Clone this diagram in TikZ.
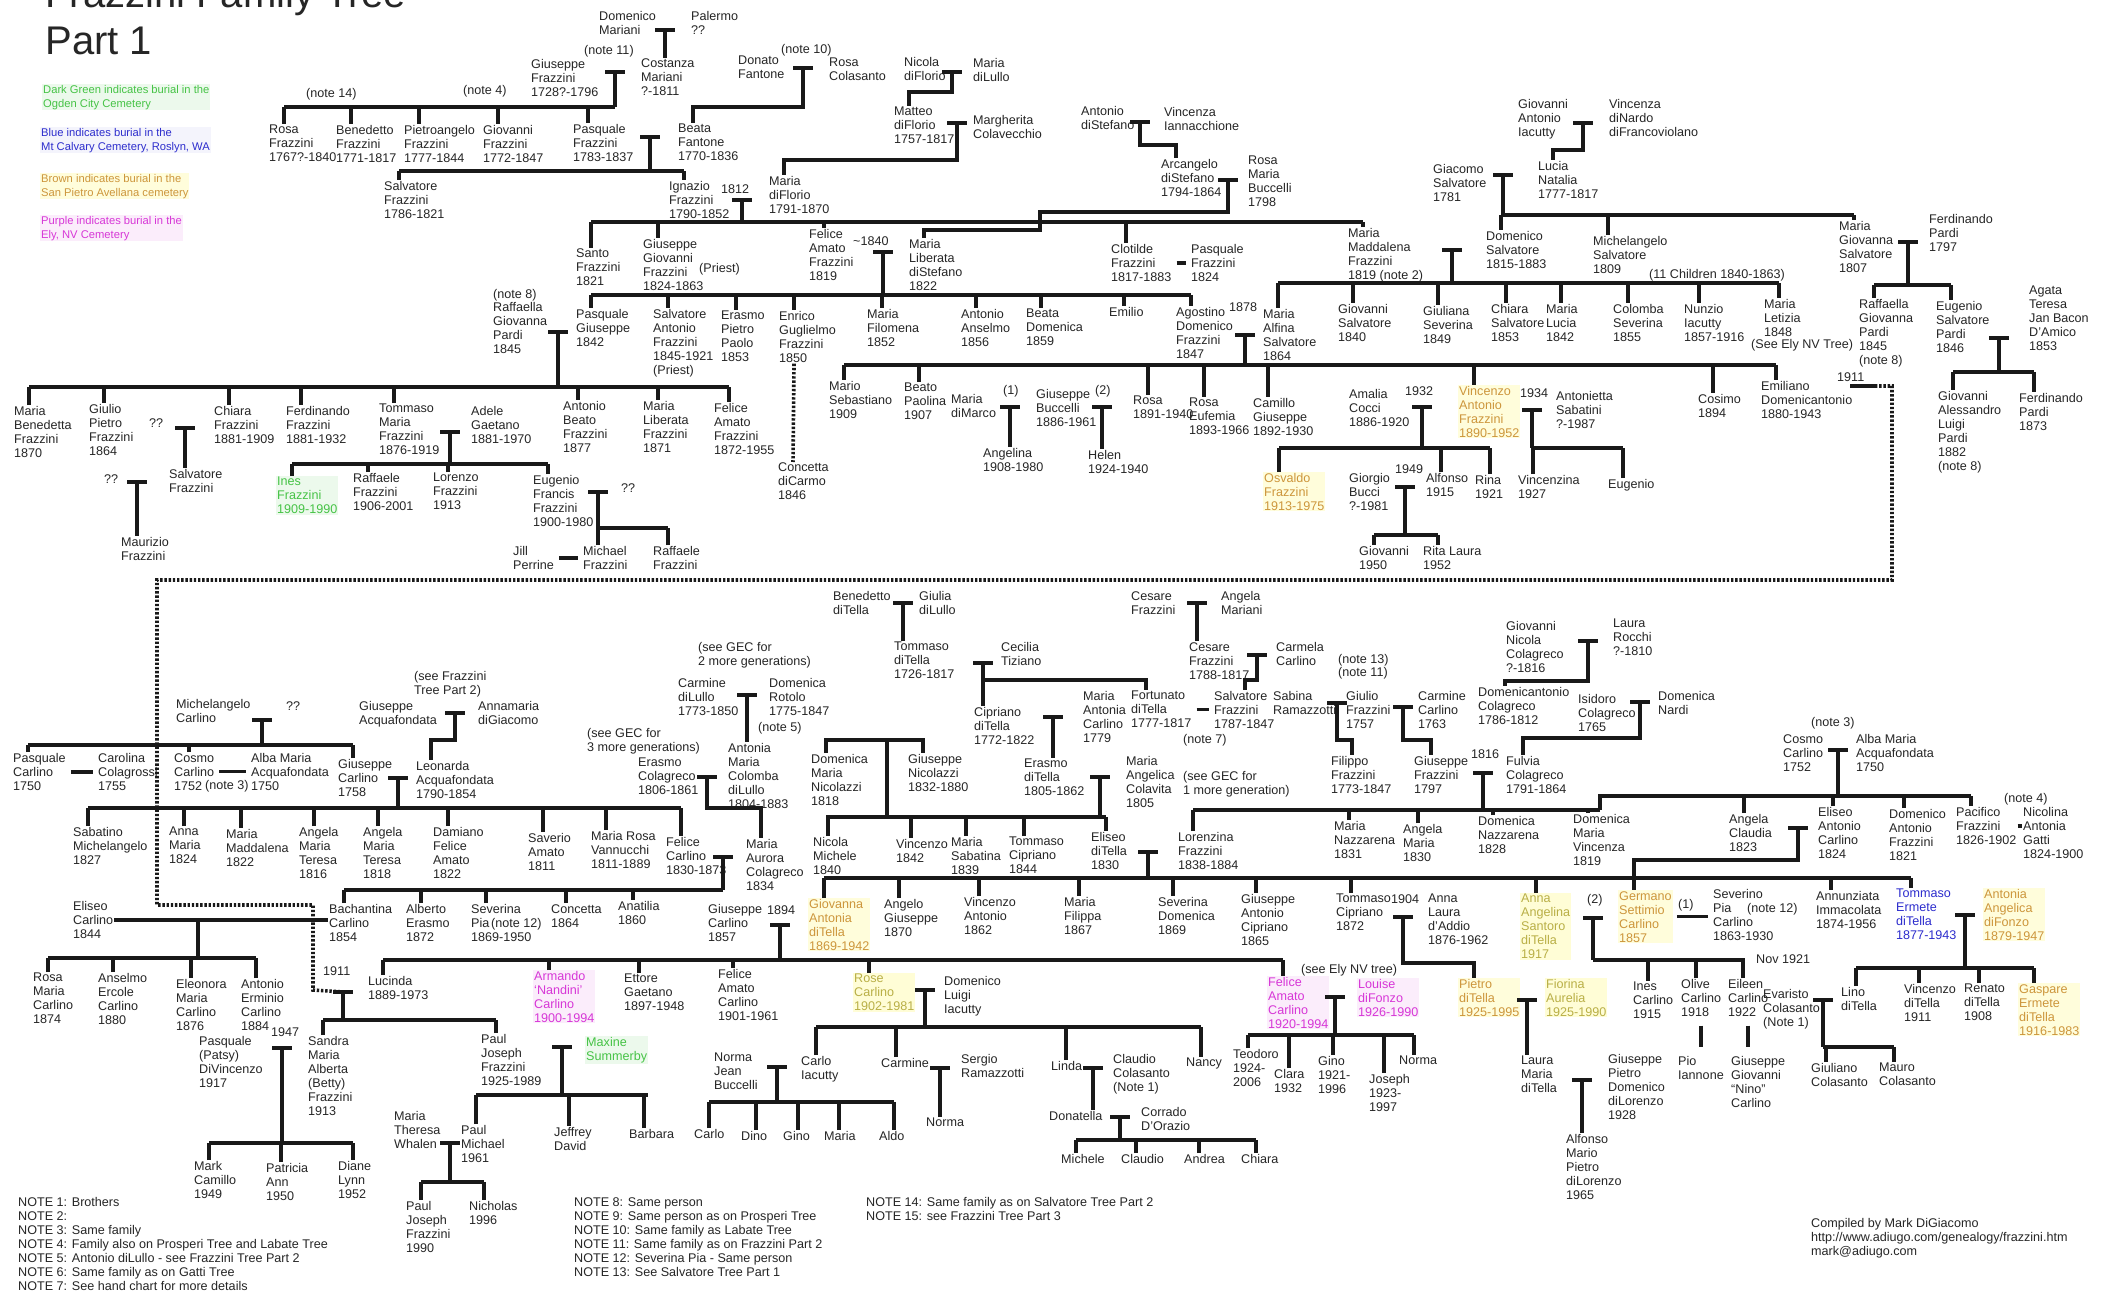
\documentclass[tikz,border=0pt]{standalone}
\usepackage{fontspec}
\setmainfont{Liberation Sans}
\usetikzlibrary{calc}
\definecolor{burG}{RGB}{70,195,70}
\definecolor{burB}{RGB}{45,45,205}
\definecolor{burO}{RGB}{205,150,60}
\definecolor{burP}{RGB}{215,55,215}
\definecolor{burY}{RGB}{185,175,70}
\newcommand\ff{\fontsize{6.3}{7}\selectfont}
\tikzset{
  ppl/.style={anchor=north west, align=left, inner sep=0.4pt, font=\ff, text=black!85},
  pplg/.style={ppl, text=burG, fill=burG!10},
  pplb/.style={ppl, text=burB},
  pplo/.style={ppl, text=burO, fill=yellow!14},
  pplp/.style={ppl, text=burP, fill=burP!9},
  pply/.style={ppl, text=burY, fill=yellow!16},
  lbl/.style={ppl},
  legtxt/.style={ppl, font=\fontsize{5.6}{7}\selectfont},
  ttl/.style={inner sep=0pt, font=\fontsize{20}{23}\selectfont, text=black!85},
  ln/.style={line width=1.7pt, black!90},
  dotln/.style={line width=1.8pt, black!90, dash pattern=on 1.2pt off 0.9pt},
}
\newcommand\tee[1]{\draw[ln] ([xshift=-5pt]#1) -- ([xshift=5pt]#1);}
\newcommand\stem[2]{\draw[ln] (#1) -- (#1 |- #2);}
\newcommand\rail[4]{\coordinate (#1) at (#2,#4); \draw[ln] (#1) -- (#3,#4);}
\newcommand\drops[2]{\foreach \k in {#2}{\draw[ln] let \p1=(\k.north west), \p2=(#1) in (\x1+8pt,\y1) -- (\x1+8pt,\y2);}}
\newcommand\wed[2]{\draw[ln, shorten <=2pt, shorten >=2pt] (#1.east) -- (#1.east -| #2.west);}
\begin{document}
\begin{tikzpicture}[x=0.5pt,y=-0.5pt]
\fill[white] (0,0) rectangle (2108,1294);
\useasboundingbox (0,0) rectangle (2108,1294);

\node[ttl, anchor=base west] (ttlA) at (45,8) {Frazzini Family Tree};
\node[ttl, anchor=base west] (ttlB) at (45,55) {Part 1};
\node[legtxt, text=burG, fill=burG!10] (legG) at (42,84) {Dark Green indicates burial in the\\Ogden City Cemetery};
\node[legtxt, text=burB, fill=burB!5] (legB) at (40,127) {Blue indicates burial in the\\Mt Calvary Cemetery, Roslyn, WA};
\node[legtxt, text=burO, fill=yellow!14] (legO) at (40,173) {Brown indicates burial in the\\San Pietro Avellana cemetery};
\node[legtxt, text=burP, fill=burP!9] (legP) at (40,215) {Purple indicates burial in the\\Ely, NV Cemetery};

\node[lbl] (n14) at (305,87) {(note 14)};
\node[lbl] (n4a) at (462,84) {(note 4)};
\node[ppl] (rosaF) at (268,124) {Rosa\\Frazzini\\1767?-1840};
\node[ppl] (beneF) at (335,124) {Benedetto\\Frazzini\\1771-1817};
\node[ppl] (pietF) at (403,124) {Pietroangelo\\Frazzini\\1777-1844};
\node[ppl] (giovF) at (482,124) {Giovanni\\Frazzini\\1772-1847};
\node[ppl] (pasqF) at (572,123) {Pasquale\\Frazzini\\1783-1837};
\node[lbl] (n11a) at (583,44) {(note 11)};
\node[ppl] (giusF) at (530,58) {Giuseppe\\Frazzini\\1728?-1796};
\node[ppl] (costM) at (640,58) {Costanza\\Mariani\\?-1811};
\node[ppl] (domM) at (598,10) {Domenico\\Mariani};
\node[ppl] (paleM) at (690,10) {Palermo\\??};
\node[ppl] (beaF) at (677,123) {Beata\\Fantone\\1770-1836};
\node[ppl] (salvF) at (383,180) {Salvatore\\Frazzini\\1786-1821};
\node[ppl] (ignF) at (668,180) {Ignazio\\Frazzini\\1790-1852};
\node[lbl] (n10) at (780,43) {(note 10)};
\node[ppl] (donF) at (737,55) {Donato\\Fantone};
\node[ppl] (rosaC) at (828,57) {Rosa\\Colasanto};
\node[ppl] (nicD) at (903,56) {Nicola\\diFlorio};
\node[ppl] (marL) at (972,57) {Maria\\diLullo};
\node[ppl] (matD) at (893,106) {Matteo\\diFlorio\\1757-1817};
\node[ppl] (marC) at (972,114) {Margherita\\Colavecchio};
\node[ppl] (marD) at (768,175) {Maria\\diFlorio\\1791-1870};
\node[lbl] (y1812) at (720,184) {1812};
\node[ppl] (santoF) at (575,248) {Santo\\Frazzini\\1821};
\node[ppl] (giugF) at (642,238) {Giuseppe\\Giovanni\\Frazzini\\1824-1863};
\node[lbl] (priest) at (698,262) {(Priest)};
\node[ppl] (felF) at (808,228) {Felice\\Amato\\Frazzini\\1819};
\node[ppl] (cloF) at (1110,243) {Clotilde\\Frazzini\\1817-1883};
\node[ppl] (pasq2F) at (1190,243) {Pasquale\\Frazzini\\1824};
\node[ppl] (mmadF) at (1347,227) {Maria\\Maddalena\\Frazzini\\1819 (note 2)};
\node[ppl] (antS) at (1080,105) {Antonio\\diStefano};
\node[ppl] (vinI) at (1163,106) {Vincenza\\Iannacchione};
\node[ppl] (arcS) at (1160,158) {Arcangelo\\diStefano\\1794-1864};
\node[ppl] (rosaB) at (1247,155) {Rosa\\Maria\\Buccelli\\1798};
\node[ppl] (mlibS) at (908,238) {Maria\\Liberata\\diStefano\\1822};
\node[lbl] (y1840) at (852,236) {\textasciitilde 1840};
\node[ppl] (pasgF) at (575,308) {Pasquale\\Giuseppe\\1842};
\node[ppl] (salaF) at (652,308) {Salvatore\\Antonio\\Frazzini\\1845-1921\\(Priest)};
\node[ppl] (erpF) at (720,310) {Erasmo\\Pietro\\Paolo\\1853};
\node[ppl] (enrF) at (778,310) {Enrico\\Guglielmo\\Frazzini\\1850};
\node[ppl] (mfilF) at (866,308) {Maria\\Filomena\\1852};
\node[ppl] (antaF) at (960,308) {Antonio\\Anselmo\\1856};
\node[ppl] (bdomF) at (1025,308) {Beata\\Domenica\\1859};
\node[ppl] (emiF) at (1108,306) {Emilio};
\node[ppl] (agoF) at (1175,306) {Agostino\\Domenico\\Frazzini\\1847};
\node[lbl] (n8a) at (492,288) {(note 8)};
\node[ppl] (raffP) at (492,301) {Raffaella\\Giovanna\\Pardi\\1845};
\node[ppl] (conD) at (777,462) {Concetta\\diCarmo\\1846};
\node[ppl] (mbenF) at (13,405) {Maria\\Benedetta\\Frazzini\\1870};
\node[ppl] (giulF) at (88,403) {Giulio\\Pietro\\Frazzini\\1864};
\node[ppl] (chiF) at (213,405) {Chiara\\Frazzini\\1881-1909};
\node[ppl] (ferF) at (285,405) {Ferdinando\\Frazzini\\1881-1932};
\node[ppl] (tomF) at (378,403) {Tommaso\\Maria\\Frazzini\\1876-1919};
\node[ppl] (antbF) at (562,400) {Antonio\\Beato\\Frazzini\\1877};
\node[ppl] (mlbF) at (642,400) {Maria\\Liberata\\Frazzini\\1871};
\node[ppl] (felaF) at (713,402) {Felice\\Amato\\Frazzini\\1872-1955};
\node[ppl] (qA) at (148,418) {??};
\node[ppl] (sal2F) at (168,468) {Salvatore\\Frazzini};
\node[ppl] (qB) at (103,474) {??};
\node[ppl] (maurF) at (120,536) {Maurizio\\Frazzini};
\node[ppl] (adeG) at (470,405) {Adele\\Gaetano\\1881-1970};
\node[pplg] (inesF) at (276,476) {Ines\\Frazzini\\1909-1990};
\node[ppl] (rafF) at (352,472) {Raffaele\\Frazzini\\1906-2001};
\node[ppl] (lorF) at (432,472) {Lorenzo\\Frazzini\\1913};
\node[ppl] (eugF) at (532,474) {Eugenio\\Francis\\Frazzini\\1900-1980};
\node[ppl] (qC) at (620,483) {??};
\node[ppl] (jillP) at (512,545) {Jill\\Perrine};
\node[ppl] (michF) at (582,545) {Michael\\Frazzini};
\node[ppl] (raf2F) at (652,545) {Raffaele\\Frazzini};

\node[lbl] (y1878) at (1228,302) {1878};
\node[ppl] (malfS) at (1262,308) {Maria\\Alfina\\Salvatore\\1864};
\node[ppl] (marS) at (828,380) {Mario\\Sebastiano\\1909};
\node[ppl] (beaP) at (903,382) {Beato\\Paolina\\1907};
\node[ppl] (mdiM) at (950,393) {Maria\\diMarco};
\node[lbl] (l1a) at (1002,384) {(1)};
\node[ppl] (giusB) at (1035,388) {Giuseppe\\Buccelli\\1886-1961};
\node[lbl] (l2a) at (1094,384) {(2)};
\node[ppl] (rosF2) at (1132,395) {Rosa\\1891-1940};
\node[ppl] (rosE) at (1188,397) {Rosa\\Eufemia\\1893-1966};
\node[ppl] (camG) at (1252,397) {Camillo\\Giuseppe\\1892-1930};
\node[ppl] (angL) at (982,447) {Angelina\\1908-1980};
\node[ppl] (helB) at (1087,449) {Helen\\1924-1940};
\node[ppl] (amaC) at (1348,388) {Amalia\\Cocci\\1886-1920};
\node[lbl] (y1932) at (1404,386) {1932};
\node[pplo] (vinF) at (1458,385) {Vincenzo\\Antonio\\Frazzini\\1890-1952};
\node[lbl] (y1934) at (1519,388) {1934};
\node[ppl] (antSa) at (1555,390) {Antonietta\\Sabatini\\?-1987};
\node[ppl] (cosF) at (1697,393) {Cosimo\\1894};
\node[ppl] (emilD) at (1760,380) {Emiliano\\Domenicantonio\\1880-1943};
\node[lbl] (y1911a) at (1836,372) {1911};
\node[pplo] (osvF) at (1263,472) {Osvaldo\\Frazzini\\1913-1975};
\node[ppl] (giorB) at (1348,472) {Giorgio\\Bucci\\?-1981};
\node[lbl] (y1949) at (1394,464) {1949};
\node[ppl] (alfF) at (1425,472) {Alfonso\\1915};
\node[ppl] (rinF) at (1474,474) {Rina\\1921};
\node[ppl] (giovX) at (1358,545) {Giovanni\\1950};
\node[ppl] (ritL) at (1422,545) {Rita Laura\\1952};
\node[ppl] (vinzF) at (1517,474) {Vincenzina\\1927};
\node[ppl] (eugF2) at (1607,478) {Eugenio};

\node[ppl] (giA) at (1517,98) {Giovanni\\Antonio\\Iacutty};
\node[ppl] (viN2) at (1608,98) {Vincenza\\diNardo\\diFrancoviolano};
\node[ppl] (luN) at (1537,160) {Lucia\\Natalia\\1777-1817};
\node[ppl] (giS) at (1432,163) {Giacomo\\Salvatore\\1781};
\node[ppl] (doS) at (1485,230) {Domenico\\Salvatore\\1815-1883};
\node[ppl] (miS) at (1592,235) {Michelangelo\\Salvatore\\1809};
\node[ppl] (mgS) at (1838,220) {Maria\\Giovanna\\Salvatore\\1807};
\node[ppl] (fdP) at (1928,213) {Ferdinando\\Pardi\\1797};
\node[lbl] (c11) at (1648,268) {(11 Children 1840-1863)};
\node[ppl] (giS2) at (1337,303) {Giovanni\\Salvatore\\1840};
\node[ppl] (gsS) at (1422,305) {Giuliana\\Severina\\1849};
\node[ppl] (chS) at (1490,303) {Chiara\\Salvatore\\1853};
\node[ppl] (mlS) at (1545,303) {Maria\\Lucia\\1842};
\node[ppl] (coS) at (1612,303) {Colomba\\Severina\\1855};
\node[ppl] (nuI) at (1683,303) {Nunzio\\Iacutty\\1857-1916};
\node[ppl] (mleS) at (1763,298) {Maria\\Letizia\\1848};
\node[lbl] (seeE2) at (1750,338) {(See Ely NV Tree)};
\node[ppl] (rgP) at (1858,298) {Raffaella\\Giovanna\\Pardi\\1845\\(note 8)};
\node[ppl] (esP) at (1935,300) {Eugenio\\Salvatore\\Pardi\\1846};
\node[ppl] (agT) at (2028,285) {Agata\\Teresa\\Jan Bacon\\D'Amico\\1853};
\node[ppl] (gaP) at (1937,390) {Giovanni\\Alessandro\\Luigi\\Pardi\\1882\\(note 8)};
\node[ppl] (fd2P) at (2018,392) {Ferdinando\\Pardi\\1873};

\node[ppl] (micC) at (175,698) {Michelangelo\\Carlino};
\node[ppl] (qD) at (285,700) {??};
\node[ppl] (pasC) at (12,752) {Pasquale\\Carlino\\1750};
\node[ppl] (carC) at (97,752) {Carolina\\Colagrossi\\1755};
\node[ppl] (cosC) at (173,752) {Cosmo\\Carlino\\1752};
\node[lbl] (n3a) at (204,779) {(note 3)};
\node[ppl] (albaA) at (250,752) {Alba Maria\\Acquafondata\\1750};
\node[ppl] (gcC) at (337,758) {Giuseppe\\Carlino\\1758};
\node[lbl] (seeFr) at (413,670) {(see Frazzini\\Tree Part 2)};
\node[ppl] (giusA) at (358,700) {Giuseppe\\Acquafondata};
\node[ppl] (annG) at (477,700) {Annamaria\\diGiacomo};
\node[ppl] (leoA) at (415,760) {Leonarda\\Acquafondata\\1790-1854};
\node[ppl] (sabM) at (72,826) {Sabatino\\Michelangelo\\1827};
\node[ppl] (anM) at (168,826) {Anna\\Maria\\1824};
\node[ppl] (mmC) at (225,828) {Maria\\Maddalena\\1822};
\node[ppl] (amtA) at (298,826) {Angela\\Maria\\Teresa\\1816};
\node[ppl] (amtB) at (362,826) {Angela\\Maria\\Teresa\\1818};
\node[ppl] (dfaC) at (432,826) {Damiano\\Felice\\Amato\\1822};
\node[ppl] (saA) at (527,832) {Saverio\\Amato\\1811};
\node[ppl] (mrV) at (590,830) {Maria Rosa\\Vannucchi\\1811-1889};
\node[ppl] (felC) at (665,836) {Felice\\Carlino\\1830-1873};
\node[lbl] (seeG3) at (586,727) {(see GEC for\\3 more generations)};
\node[ppl] (eraC) at (637,757) {Erasmo\\Colagreco\\1806-1861};
\node[ppl] (antL) at (727,742) {Antonia\\Maria\\Colomba\\diLullo\\1804-1883};
\node[lbl] (seeG2) at (697,641) {(see GEC for\\2 more generations)};
\node[ppl] (carL) at (677,677) {Carmine\\diLullo\\1773-1850};
\node[ppl] (domR) at (768,677) {Domenica\\Rotolo\\1775-1847};
\node[lbl] (n5) at (757,721) {(note 5)};
\node[ppl] (mauC) at (745,838) {Maria\\Aurora\\Colagreco\\1834};
\node[ppl] (bacC) at (328,903) {Bachantina\\Carlino\\1854};
\node[ppl] (alE) at (405,903) {Alberto\\Erasmo\\1872};
\node[ppl] (sevP) at (470,903) {Severina\\Pia\\1869-1950};
\node[lbl] (n12a) at (490,917) {(note 12)};
\node[ppl] (conC) at (550,903) {Concetta\\1864};
\node[ppl] (anaC) at (617,900) {Anatilia\\1860};
\node[ppl] (eliC) at (72,900) {Eliseo\\Carlino\\1844};
\node[ppl] (rmC) at (32,972) {Rosa\\Maria\\Carlino\\1874};
\node[ppl] (aeC) at (97,972) {Anselmo\\Ercole\\Carlino\\1880};
\node[ppl] (emC) at (175,978) {Eleonora\\Maria\\Carlino\\1876};
\node[ppl] (aerC) at (240,978) {Antonio\\Erminio\\Carlino\\1884};
\node[ppl] (gc2) at (707,903) {Giuseppe\\Carlino\\1857};
\node[lbl] (y1894) at (766,904) {1894};
\node[pplo] (giovT) at (808,898) {Giovanna\\Antonia\\diTella\\1869-1942};
\node[lbl] (y1911b) at (322,965) {1911};
\node[ppl] (lucC) at (367,975) {Lucinda\\1889-1973};
\node[pplp] (armC) at (533,970) {Armando\\`Nandini'\\Carlino\\1900-1994};
\node[ppl] (etG) at (623,973) {Ettore\\Gaetano\\1897-1948};
\node[ppl] (faC) at (717,968) {Felice\\Amato\\Carlino\\1901-1961};
\node[pply] (roC) at (853,973) {Rose\\Carlino\\1902-1981};
\node[ppl] (dlI) at (943,975) {Domenico\\Luigi\\Iacutty};
\node[lbl] (seeEly) at (1300,963) {(see Ely NV tree)};
\node[pplp] (fa2C) at (1267,976) {Felice\\Amato\\Carlino\\1920-1994};
\node[pplp] (louD) at (1357,978) {Louise\\diFonzo\\1926-1990};
\node[ppl] (sanF) at (307,1035) {Sandra\\Maria\\Alberta\\(Betty)\\Frazzini\\1913};
\node[ppl] (pjF) at (480,1033) {Paul\\Joseph\\Frazzini\\1925-1989};
\node[ppl] (pasD) at (198,1035) {Pasquale\\(Patsy)\\DiVincenzo\\1917};
\node[lbl] (y1947) at (270,1026) {1947};
\node[ppl] (marC2) at (193,1160) {Mark\\Camillo\\1949};
\node[ppl] (patA) at (265,1162) {Patricia\\Ann\\1950};
\node[ppl] (diaL) at (337,1160) {Diane\\Lynn\\1952};
\node[pplg] (maxS) at (585,1036) {Maxine\\Summerby};
\node[ppl] (mtW) at (393,1110) {Maria\\Theresa\\Whalen};
\node[ppl] (pmF) at (460,1124) {Paul\\Michael\\1961};
\node[ppl] (jefD) at (553,1126) {Jeffrey\\David};
\node[ppl] (barF) at (628,1128) {Barbara};
\node[ppl] (pj2F) at (405,1200) {Paul\\Joseph\\Frazzini\\1990};
\node[ppl] (nicF) at (468,1200) {Nicholas\\1996};
\node[ppl] (noB) at (713,1052) {Norma\\Jean\\Buccelli};
\node[ppl] (caI) at (800,1055) {Carlo\\Iacutty};
\node[ppl] (cmI) at (880,1057) {Carmine};
\node[ppl] (seR) at (960,1053) {Sergio\\Ramazzotti};
\node[ppl] (noR) at (925,1117) {Norma};
\node[ppl] (liI) at (1050,1060) {Linda};
\node[ppl] (clC) at (1112,1053) {Claudio\\Colasanto\\(Note 1)};
\node[ppl] (naI) at (1185,1057) {Nancy};
\node[ppl] (kCarlo) at (693,1128) {Carlo};
\node[ppl] (kDino) at (740,1130) {Dino};
\node[ppl] (kGino) at (782,1130) {Gino};
\node[ppl] (kMaria) at (823,1130) {Maria};
\node[ppl] (kAldo) at (878,1130) {Aldo};
\node[ppl] (doC) at (1048,1110) {Donatella};
\node[ppl] (coD) at (1140,1106) {Corrado\\D'Orazio};
\node[ppl] (kMich) at (1060,1153) {Michele};
\node[ppl] (kClau) at (1120,1153) {Claudio};
\node[ppl] (kAndr) at (1183,1153) {Andrea};
\node[ppl] (kChia) at (1240,1153) {Chiara};
\node[ppl] (kTeo) at (1232,1048) {Teodoro\\1924-\\2006};
\node[ppl] (kClara) at (1273,1068) {Clara\\1932};
\node[ppl] (kGino2) at (1317,1055) {Gino\\1921-\\1996};
\node[ppl] (kJos) at (1368,1073) {Joseph\\1923-\\1997};
\node[ppl] (kNorma) at (1398,1055) {Norma};

\node[ppl] (beT) at (832,590) {Benedetto\\diTella};
\node[ppl] (giL) at (918,590) {Giulia\\diLullo};
\node[ppl] (toT) at (893,641) {Tommaso\\diTella\\1726-1817};
\node[ppl] (ceT) at (1000,641) {Cecilia\\Tiziano};
\node[ppl] (ciT) at (973,706) {Cipriano\\diTella\\1772-1822};
\node[ppl] (maC2) at (1082,690) {Maria\\Antonia\\Carlino\\1779};
\node[ppl] (foT) at (1130,690) {Fortunato\\diTella\\1777-1817};
\node[ppl] (erT) at (1023,758) {Erasmo\\diTella\\1805-1862};
\node[ppl] (mgC) at (1125,755) {Maria\\Angelica\\Colavita\\1805};
\node[lbl] (seeG1) at (1182,770) {(see GEC for\\1 more generation)};
\node[ppl] (domN) at (810,753) {Domenica\\Maria\\Nicolazzi\\1818};
\node[ppl] (giN) at (907,753) {Giuseppe\\Nicolazzi\\1832-1880};
\node[ppl] (niM) at (812,836) {Nicola\\Michele\\1840};
\node[ppl] (viN) at (895,838) {Vincenzo\\1842};
\node[ppl] (msN) at (950,836) {Maria\\Sabatina\\1839};
\node[ppl] (tcN) at (1008,836) {Tommaso\\Cipriano\\1844};
\node[ppl] (elT) at (1090,831) {Eliseo\\diTella\\1830};
\node[ppl] (loF) at (1177,831) {Lorenzina\\Frazzini\\1838-1884};
\node[ppl] (ceF) at (1130,590) {Cesare\\Frazzini};
\node[ppl] (anM2) at (1220,590) {Angela\\Mariani};
\node[ppl] (ce2F) at (1188,641) {Cesare\\Frazzini\\1788-1817};
\node[ppl] (cmC) at (1275,641) {Carmela\\Carlino};
\node[ppl] (sa3F) at (1213,690) {Salvatore\\Frazzini\\1787-1847};
\node[lbl] (n7) at (1182,733) {(note 7)};
\node[ppl] (sbR) at (1272,690) {Sabina\\Ramazzotti};
\node[lbl] (n13) at (1337,653) {(note 13)};
\node[lbl] (n11b) at (1337,666) {(note 11)};
\node[ppl] (gu2F) at (1345,690) {Giulio\\Frazzini\\1757};
\node[ppl] (caC3) at (1417,690) {Carmine\\Carlino\\1763};
\node[ppl] (fiF) at (1330,755) {Filippo\\Frazzini\\1773-1847};
\node[ppl] (g97F) at (1413,755) {Giuseppe\\Frazzini\\1797};
\node[lbl] (y1816) at (1470,748) {1816};
\node[ppl] (fuC) at (1505,755) {Fulvia\\Colagreco\\1791-1864};
\node[ppl] (gnC) at (1505,620) {Giovanni\\Nicola\\Colagreco\\?-1816};
\node[ppl] (lrR) at (1612,618) {Laura\\Rocchi\\?-1810};
\node[ppl] (dcC) at (1477,686) {Domenicantonio\\Colagreco\\1786-1812};
\node[ppl] (isC) at (1577,693) {Isidoro\\Colagreco\\1765};
\node[ppl] (dnN) at (1657,690) {Domenica\\Nardi};
\node[ppl] (mnN) at (1333,820) {Maria\\Nazzarena\\1831};
\node[ppl] (amN) at (1402,823) {Angela\\Maria\\1830};
\node[ppl] (dnZ) at (1477,815) {Domenica\\Nazzarena\\1828};
\node[ppl] (dmv) at (1572,813) {Domenica\\Maria\\Vincenza\\1819};
\node[ppl] (acC) at (1728,813) {Angela\\Claudia\\1823};
\node[ppl] (eaC) at (1817,806) {Eliseo\\Antonio\\Carlino\\1824};
\node[ppl] (daF) at (1888,808) {Domenico\\Antonio\\Frazzini\\1821};
\node[ppl] (paF) at (1955,806) {Pacifico\\Frazzini\\1826-1902};
\node[lbl] (n4b) at (2003,792) {(note 4)};
\node[ppl] (ngG) at (2022,806) {Nicolina\\Antonia\\Gatti\\1824-1900};
\node[lbl] (n3b) at (1810,716) {(note 3)};
\node[ppl] (co2C) at (1782,733) {Cosmo\\Carlino\\1752};
\node[ppl] (al2A) at (1855,733) {Alba Maria\\Acquafondata\\1750};
\node[ppl] (anG) at (883,898) {Angelo\\Giuseppe\\1870};
\node[ppl] (viA) at (963,896) {Vincenzo\\Antonio\\1862};
\node[ppl] (mfT) at (1063,896) {Maria\\Filippa\\1867};
\node[ppl] (sdT) at (1157,896) {Severina\\Domenica\\1869};
\node[ppl] (gacT) at (1240,893) {Giuseppe\\Antonio\\Cipriano\\1865};
\node[ppl] (tcT) at (1335,893) {Tommaso\\Cipriano\\1872};
\node[lbl] (y1904) at (1390,893) {1904};
\node[ppl] (anL) at (1427,893) {Anna\\Laura\\d'Addio\\1876-1962};
\node[pply] (aaS) at (1520,893) {Anna\\Angelina\\Santoro\\diTella\\1917};
\node[lbl] (l2b) at (1586,893) {(2)};
\node[pplo] (geC) at (1618,890) {Germano\\Settimio\\Carlino\\1857};
\node[lbl] (l1b) at (1677,898) {(1)};
\node[ppl] (svC) at (1712,888) {Severino\\Pia\\Carlino\\1863-1930};
\node[lbl] (n12b) at (1746,902) {(note 12)};
\node[ppl] (aiI) at (1815,890) {Annunziata\\Immacolata\\1874-1956};
\node[pplb] (teT) at (1895,888) {Tommaso\\Ermete\\diTella\\1877-1943};
\node[pplo] (adF) at (1983,888) {Antonia\\Angelica\\diFonzo\\1879-1947};
\node[pplo] (piT) at (1458,978) {Pietro\\diTella\\1925-1995};
\node[pply] (fiA) at (1545,978) {Fiorina\\Aurelia\\1925-1990};
\node[ppl] (laT) at (1520,1055) {Laura\\Maria\\diTella};
\node[ppl] (gpD) at (1607,1053) {Giuseppe\\Pietro\\Domenico\\diLorenzo\\1928};
\node[ppl] (amP) at (1565,1133) {Alfonso\\Mario\\Pietro\\diLorenzo\\1965};
\node[ppl] (inC) at (1632,981) {Ines\\Carlino\\1915};
\node[ppl] (olC) at (1680,978) {Olive\\Carlino\\1918};
\node[ppl] (eiC) at (1727,978) {Eileen\\Carlino\\1922};
\node[lbl] (nov21) at (1755,953) {Nov 1921};
\node[ppl] (piI) at (1677,1055) {Pio\\Iannone};
\node[ppl] (gnc) at (1730,1055) {Giuseppe\\Giovanni\\``Nino''\\Carlino};
\node[ppl] (evC) at (1762,988) {Evaristo\\Colasanto\\(Note 1)};
\node[ppl] (liT) at (1840,986) {Lino\\diTella};
\node[ppl] (giC) at (1810,1062) {Giuliano\\Colasanto};
\node[ppl] (maC3) at (1878,1062) {Mauro\\Colasanto};
\node[ppl] (viT) at (1903,983) {Vincenzo\\diTella\\1911};
\node[ppl] (reT) at (1963,983) {Renato\\diTella\\1908};
\node[pplo] (gaT) at (2018,983) {Gaspare\\Ermete\\diTella\\1916-1983};

\node[ppl] (notesA) at (17,1196) {NOTE 1: Brothers\\NOTE 2:\\NOTE 3: Same family\\NOTE 4: Family also on Prosperi Tree and Labate Tree\\NOTE 5: Antonio diLullo - see Frazzini Tree Part 2\\NOTE 6: Same family as on Gatti Tree\\NOTE 7: See hand chart for more details};
\node[ppl] (notesB) at (573,1196) {NOTE 8: Same person\\NOTE 9: Same person as on Prosperi Tree\\NOTE 10: Same family as Labate Tree\\NOTE 11: Same family as on Frazzini Part 2\\NOTE 12: Severina Pia - Same person\\NOTE 13: See Salvatore Tree Part 1};
\node[ppl] (notesC) at (865,1196) {NOTE 14: Same family as on Salvatore Tree Part 2\\NOTE 15: see Frazzini Tree Part 3};
\node[ppl] (cred) at (1810,1217) {Compiled by Mark DiGiacomo\\http://www.adiugo.com/genealogy/frazzini.htm\\mark@adiugo.com};

\coordinate (tDm) at (665,30); \tee{tDm} \draw[ln] (tDm) -- (tDm |- costM.north);
\coordinate (tGi) at (615,72); \tee{tGi}
\rail{bar1}{284}{615}{107} \stem{tGi}{bar1} \drops{bar1}{rosaF,beneF,pietF,giovF,pasqF}
\coordinate (tDf) at (803,68); \tee{tDf} \draw[ln] (tDf) -- ++(0,39) -| ([xshift=8pt]beaF.north west);
\coordinate (tPb) at (650,137); \tee{tPb}
\rail{bar2}{399}{684}{171} \stem{tPb}{bar2} \drops{bar2}{salvF,ignF}
\coordinate (tNm) at (952,72); \tee{tNm} \draw[ln] (tNm) -- ++(0,20) -| ([xshift=8pt]matD.north west);
\coordinate (tMm) at (957,123); \tee{tMm} \draw[ln] (tMm) -- ++(0,37) -| ([xshift=8pt]marD.north west);
\coordinate (tIm) at (742,200); \tee{tIm}
\rail{bar3}{591}{1363}{222} \stem{tIm}{bar3} \drops{bar3}{santoF,giugF,felF,cloF,mmadF}
\wed{cloF}{pasq2F}
\coordinate (tAv) at (1140,122); \tee{tAv} \draw[ln] (tAv) -- ++(0,23) -| ([xshift=8pt]arcS.north west);
\coordinate (tAr) at (1228,180); \tee{tAr} \draw[ln] (tAr) -- ++(0,32) -- ++(-188,0) -- ++(0,18) -| ([xshift=8pt]mlibS.north west);
\coordinate (tFm) at (883,252); \tee{tFm}
\rail{bar4}{591}{1191}{295} \stem{tFm}{bar4} \drops{bar4}{pasgF,salaF,erpF,enrF,mfilF,antaF,bdomF,emiF,agoF}
\draw[dotln] ([xshift=8pt]enrF.south west) -- ([xshift=8pt]conD.north west);
\coordinate (tPr) at (558,332); \tee{tPr}
\rail{bar5}{29}{729}{387} \stem{tPr}{bar5} \drops{bar5}{mbenF,giulF,chiF,ferF,tomF,antbF,mlbF,felaF}
\coordinate (tGq) at (185,428); \tee{tGq} \draw[ln] (tGq) -- (tGq |- sal2F.north);
\coordinate (tSq) at (137,482); \tee{tSq} \draw[ln] (tSq) -- (tSq |- maurF.north);
\coordinate (tTa) at (450,432); \tee{tTa}
\rail{bar6}{292}{548}{464} \stem{tTa}{bar6} \drops{bar6}{inesF,rafF,lorF,eugF}
\coordinate (tEq) at (598,492); \tee{tEq}
\rail{bar7}{598}{668}{528} \stem{tEq}{bar7} \drops{bar7}{michF,raf2F}
\wed{jillP}{michF}

\coordinate (tAm) at (1245,335); \tee{tAm}
\rail{bar8}{844}{1776}{365} \stem{tAm}{bar8} \drops{bar8}{marS,beaP,rosF2,rosE,camG,vinF,cosF,emilD}
\coordinate (tMg) at (1010,407); \tee{tMg} \draw[ln] (tMg) -- (tMg |- angL.north);
\coordinate (tGr) at (1102,407); \tee{tGr} \draw[ln] (tGr) -- (tGr |- helB.north);
\coordinate (tAv2) at (1422,407); \tee{tAv2}
\rail{bar9}{1279}{1490}{448} \stem{tAv2}{bar9} \drops{bar9}{osvF,alfF,rinF}
\coordinate (tGa2) at (1405,487); \tee{tGa2}
\rail{bar10}{1374}{1438}{535} \stem{tGa2}{bar10} \drops{bar10}{giovX,ritL}
\coordinate (tVs) at (1532,410); \tee{tVs}
\rail{bar11}{1532}{1623}{448} \stem{tVs}{bar11} \drops{bar11}{vinzF,eugF2}

\coordinate (tGv) at (1583,123); \tee{tGv} \draw[ln] (tGv) -- ++(0,27) -| ([xshift=8pt]luN.north west);
\coordinate (tGs) at (1503,175); \tee{tGs}
\rail{bar32}{1501}{1854}{215} \stem{tGs}{bar32} \drops{bar32}{doS,miS,mgS}
\coordinate (tMd) at (1452,250); \tee{tMd}
\rail{bar33}{1278}{1779}{283} \stem{tMd}{bar33} \drops{bar33}{malfS,giS2,gsS,chS,mlS,coS,nuI,mleS}
\coordinate (tMf) at (1908,242); \tee{tMf}
\rail{bar34}{1874}{1951}{285} \stem{tMf}{bar34} \drops{bar34}{rgP,esP}
\coordinate (tEa3) at (1999,338); \tee{tEa3}
\rail{bar35}{1953}{2034}{372} \stem{tEa3}{bar35} \drops{bar35}{gaP,fd2P}

\coordinate (dS) at (1850,386); \coordinate (dE) at (1875,386);
\coordinate (dC1) at (1892,580); \coordinate (dC2) at (157,905); \coordinate (dC3) at (313,990);
\coordinate (tLu) at (343,992);
\draw[ln] (dS) -- (dE);
\draw[dotln] (dE) -| (dC1) -| (dC2) -| (dC3) -- (tLu);
\tee{tLu}
\rail{bar12}{323}{496}{1020} \stem{tLu}{bar12} \drops{bar12}{sanF,pjF}
\coordinate (tPs) at (282,1048); \tee{tPs}
\rail{bar13}{209}{353}{1143} \stem{tPs}{bar13} \drops{bar13}{marC2,patA,diaL}
\coordinate (tPm) at (562,1047); \tee{tPm}
\rail{bar14}{476}{648}{1095} \stem{tPm}{bar14} \drops{bar14}{pmF,jefD,barF}
\coordinate (tMp) at (450,1143); \tee{tMp}
\rail{bar15}{421}{484}{1182} \stem{tMp}{bar15} \drops{bar15}{pj2F,nicF}

\coordinate (tMq) at (262,720); \tee{tMq}
\rail{bar16}{28}{353}{745} \stem{tMq}{bar16} \drops{bar16}{pasC,cosC,gcC}
\wed{pasC}{carC}
\wed{cosC}{albaA}
\coordinate (tGa3) at (455,713); \tee{tGa3} \draw[ln] (tGa3) -- ++(0,27) -| ([xshift=8pt]leoA.north west);
\coordinate (tGl) at (398,778); \tee{tGl}
\rail{bar17}{88}{681}{808} \stem{tGl}{bar17} \drops{bar17}{sabM,anM,mmC,amtA,amtB,dfaC,saA,mrV,felC}
\coordinate (tCd) at (747,695); \tee{tCd} \draw[ln] (tCd) -- (tCd |- antL.north);
\coordinate (tEa2) at (707,777); \tee{tEa2} \draw[ln] (tEa2) -- ++(0,31) -| ([xshift=8pt]mauC.north west);
\coordinate (tFa) at (723,857); \tee{tFa}
\rail{bar18}{344}{723}{890} \stem{tFa}{bar18} \drops{bar18}{bacC,alE,sevP,conC,anaC}
\draw[ln] (eliC.east) -- (eliC.east -| bacC.west);
\coordinate (tEb) at (198,921);
\rail{bar19}{48}{256}{958} \stem{tEb}{bar19} \drops{bar19}{rmC,aeC,emC,aerC}
\coordinate (tGg) at (780,925); \tee{tGg}
\rail{bar20}{383}{1283}{960} \stem{tGg}{bar20} \drops{bar20}{lucC,armC,etG,faC,roC,fa2C}
\coordinate (tRd) at (925,990); \tee{tRd}
\rail{bar21}{816}{1201}{1027} \stem{tRd}{bar21} \drops{bar21}{caI,cmI,liI,naI}
\coordinate (tNc) at (777,1067); \tee{tNc}
\rail{bar22}{709}{894}{1102} \stem{tNc}{bar22} \drops{bar22}{kCarlo,kDino,kGino,kMaria,kAldo}
\coordinate (tCs) at (940,1068); \tee{tCs} \draw[ln] (tCs) -- (tCs |- noR.north);
\coordinate (tLc) at (1093,1068); \tee{tLc} \draw[ln] (tLc) -- (tLc |- doC.north);
\coordinate (tDc) at (1120,1117); \tee{tDc}
\rail{bar23}{1076}{1256}{1140} \stem{tDc}{bar23} \drops{bar23}{kMich,kClau,kAndr,kChia}
\coordinate (tFl) at (1335,997); \tee{tFl}
\rail{bar24}{1248}{1414}{1035} \stem{tFl}{bar24} \drops{bar24}{kTeo,kClara,kGino2,kJos,kNorma}

\coordinate (tBg) at (903,603); \tee{tBg} \draw[ln] (tBg) -- (tBg |- toT.north);
\coordinate (tTc) at (983,663); \tee{tTc} \draw[ln] (tTc) -- (tTc |- ciT.north);
\draw[ln] (tTc) ++(0,17) -| ([xshift=8pt]foT.north west);
\coordinate (tCm) at (1053,717); \tee{tCm} \draw[ln] (tCm) -- (tCm |- erT.north);
\coordinate (tEm) at (1100,777); \tee{tEm}
\coordinate (tDg) at (887,740);
\draw[ln] ([xshift=8pt]domN.north west) -- ++(0,-13) -| ([xshift=8pt]giN.north west);
\rail{bar25}{826}{1106}{817} \stem{tEm}{bar25} \stem{tDg}{bar25} \drops{bar25}{niM,viN,msN,tcN,elT}
\coordinate (tEl) at (1148,852); \tee{tEl}
\rail{bar26}{824}{1911}{878} \stem{tEl}{bar26} \drops{bar26}{giovT,anG,viA,mfT,sdT,gacT,tcT,aaS,aiI,teT}
\coordinate (tCa) at (1197,603); \tee{tCa} \draw[ln] (tCa) -- (tCa |- ce2F.north);
\coordinate (tCc) at (1257,655); \tee{tCc} \draw[ln] (tCc) -- ++(0,25) -| ([xshift=16pt]sa3F.north west);
\wed{foT}{sa3F}
\coordinate (tSg) at (1337,703); \tee{tSg} \draw[ln] (tSg) -- ++(0,37) -| ([xshift=11pt]fiF.north west);
\coordinate (tGc) at (1403,707); \tee{tGc} \draw[ln] (tGc) -- ++(0,33) -| ([xshift=9pt]g97F.north west);
\coordinate (tGn) at (1588,641); \tee{tGn} \draw[ln] (tGn) -- ++(0,40) -| ([xshift=14pt]dcC.north west);
\coordinate (tIn) at (1640,702); \tee{tIn} \draw[ln] (tIn) -- ++(0,36) -| ([xshift=9pt]fuC.north west);
\coordinate (tGf) at (1483,773); \tee{tGf}
\coordinate (tCa2) at (1838,750); \tee{tCa2}
\rail{bar30}{1193}{1600}{810} \coordinate (bar31) at (1600,796);
\draw[ln] (bar30 -| bar31) -- (bar31) -- (1971,796);
\stem{tGf}{bar30} \stem{tCa2}{bar31}
\drops{bar30}{loF,mnN,amN,dnZ,dmv}
\drops{bar31}{acC,eaC,daF,paF}
\draw[ln] (paF.east) -- (paF.east -| ngG.west);
\coordinate (tAe) at (1798,828); \tee{tAe} \draw[ln] (tAe) -- ++(0,32) -| ([xshift=8pt]geC.north west);
\coordinate (tTl) at (1403,917); \tee{tTl} \draw[ln] (tTl) -- ++(0,46) -| ([xshift=8pt]piT.north west);
\coordinate (tPf) at (1527,1000); \tee{tPf} \draw[ln] (tPf) -- (tPf |- laT.north);
\coordinate (tLg) at (1582,1080); \tee{tLg} \draw[ln] (tLg) -- (tLg |- amP.north);
\coordinate (tAg) at (1593,918); \tee{tAg}
\rail{bar27}{1593}{1745}{960} \stem{tAg}{bar27} \drops{bar27}{inC,olC,eiC}
\wed{geC}{svC}
\draw[ln, shorten <=4pt, shorten >=4pt] (olC.south) -- (olC.south |- piI.north);
\draw[ln, shorten <=4pt, shorten >=4pt] (eiC.south) -- (eiC.south |- gnc.north);
\coordinate (tEv) at (1823,1000); \tee{tEv}
\rail{bar28}{1823}{1894}{1047} \stem{tEv}{bar28} \drops{bar28}{giC,maC3}
\coordinate (tTe) at (1965,915); \tee{tTe}
\rail{bar29}{1856}{2034}{968} \stem{tTe}{bar29} \drops{bar29}{liT,viT,reT,gaT}
\end{tikzpicture}
\end{document}
